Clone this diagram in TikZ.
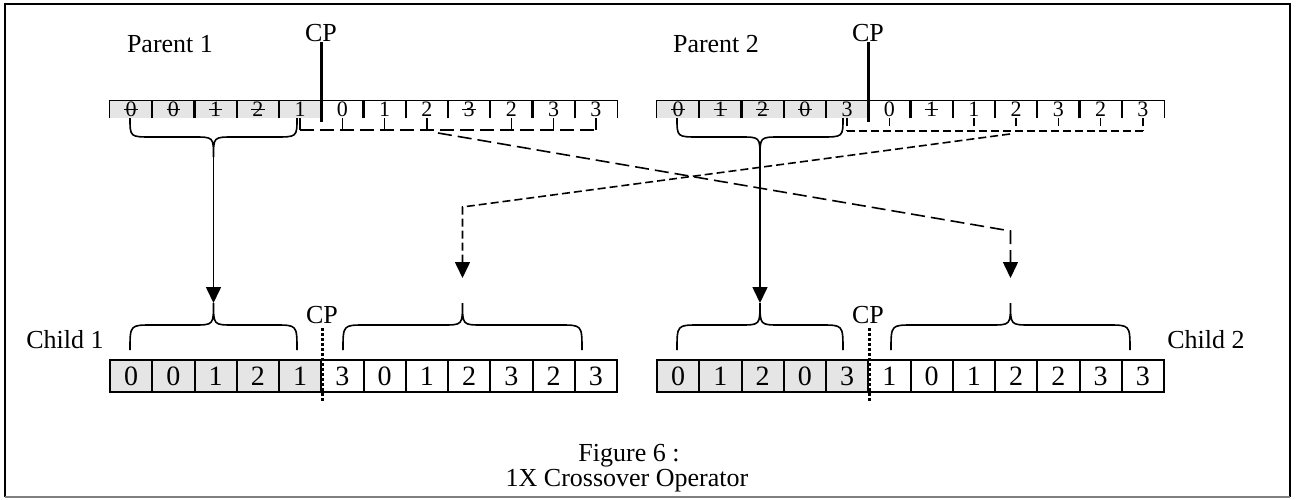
\documentclass[tikz,border=0pt]{standalone}
\usepackage{fontspec}
\setmainfont{Liberation Serif}
\usetikzlibrary{arrows.meta}
\usetikzlibrary{positioning}
\definecolor{cellgray}{gray}{0.9}
\newcommand{\cut}[1]{\ooalign{#1\cr\hidewidth\rule[.31em]{.62em}{.06em}\hidewidth}}
\tikzstyle{gene} = [rectangle, minimum width=21.125pt, minimum height=8.5pt, inner sep=0pt, font=\fontsize{11}{11}\selectfont]
\tikzstyle{kid} = [rectangle, minimum width=21.125pt, minimum height=16pt, inner sep=0pt, draw=black, line width=1pt, font=\fontsize{14}{14}\selectfont]
\tikzstyle{lbl} = [inner sep=0pt, anchor=base, font=\fontsize{13}{13}\selectfont]
\tikzstyle{longdash} = [line width=0.8pt, dash pattern=on 7pt off 3pt]
\tikzstyle{shortdash} = [line width=0.8pt, dash pattern=on 4pt off 2pt]
\tikzstyle{arr} = [-{Triangle[length=8pt,width=7.5pt]}]
% curly brace: tip name, left x, right x, end y, middle y, tip y
\newcommand{\gbrace}[6]{%
  \draw[line width=0.8pt] (#2,#4) .. controls (#2,#5) .. ({#2+22},#5)
    -- ({(#2+#3)/2-20},#5) .. controls ({(#2+#3)/2},#5) .. ({(#2+#3)/2},#6) coordinate (#1)
    .. controls ({(#2+#3)/2},#5) .. ({(#2+#3)/2+20},#5)
    -- ({#3-22},#5) .. controls (#3,#5) .. (#3,#4);}

\begin{document}
\begin{tikzpicture}[x=0.5pt, y=-0.5pt]
 \useasboundingbox (0,0) rectangle (1297,499);
 % frame
 \draw[line width=1pt] (5,497) -- (5,4) -- (1290,4) -- (1290,497);
 \draw[gray, line width=0.6pt] (5,497) -- (1290,497);

 % parents
 \foreach \d/\f [count=\i] in {\cut0/cellgray,\cut0/cellgray,\cut1/cellgray,\cut2/cellgray,1/cellgray,0/white,1/white,2/white,\cut3/white,2/white,3/white,3/white}
  \node (p1g\i) [gene, fill=\f] at ({110+42.25*(\i-0.5)},109.5) {\d};
 \foreach \d/\f [count=\i] in {\cut0/cellgray,\cut1/cellgray,\cut2/cellgray,\cut0/cellgray,3/cellgray,0/white,\cut1/white,1/white,2/white,3/white,2/white,3/white}
  \node (p2g\i) [gene, fill=\f] at ({657+42.25*(\i-0.5)},109.5) {\d};
 \foreach \i in {1,...,12} {
  \draw[line width=0.75pt] (p1g\i.south west) -- (p1g\i.north west) -- (p1g\i.north east) -- (p1g\i.south east);
  \draw[line width=0.75pt] (p2g\i.south west) -- (p2g\i.north west) -- (p2g\i.north east) -- (p2g\i.south east);
 }

 % children
 \foreach \d/\f [count=\i] in {0/cellgray,0/cellgray,1/cellgray,2/cellgray,1/cellgray,3/white,0/white,1/white,2/white,3/white,2/white,3/white}
  \node (c1g\i) [kid, fill=\f] at ({110+42.25*(\i-0.5)},376) {\d};
 \foreach \d/\f [count=\i] in {0/cellgray,1/cellgray,2/cellgray,0/cellgray,3/cellgray,1/white,0/white,1/white,2/white,2/white,3/white,3/white}
  \node (c2g\i) [kid, fill=\f] at ({657+42.25*(\i-0.5)},376) {\d};

 % labels
 \node (par1) [lbl] at (170,52) {Parent 1};
 \node (par2) [lbl] at (716,52) {Parent 2};
 \node (kid1) [lbl] at (65,348) {Child 1};
 \node (kid2) [lbl] at (1206,348) {Child 2};
 \node (cp1) [lbl] at (321,41) {CP};
 \node (cp2) [lbl] at (868,41) {CP};
 \node (cp3) [lbl] at (322,323) {CP};
 \node (cp4) [lbl] at (868,323) {CP};
 \node (fig) [lbl] at (629,461) {Figure 6 :};
 \node (op) [lbl] at (627,486) {1X Crossover Operator};

 % crossover points
 \draw[line width=1.6pt] (p1g5.north east |- 0,42) -- (p1g5.south east |- 0,122);
 \draw[line width=1.6pt] (p2g5.north east |- 0,42) -- (p2g5.south east |- 0,122);
 \draw[line width=1.5pt, dash pattern=on 1.5pt off 1pt] (c1g5.north east |- 0,328) -- (c1g5.south east |- 0,402);
 \draw[line width=1.5pt, dash pattern=on 1.5pt off 1pt] (c2g5.north east |- 0,328) -- (c2g5.south east |- 0,402);

 % braces
 \gbrace{p1tip}{130}{297}{118}{137}{157}
 \gbrace{p2tip}{677}{843}{118}{137}{157}
 \gbrace{c1ltip}{130}{297}{350}{325}{303}
 \gbrace{c1rtip}{343}{582}{350}{325}{303}
 \gbrace{c2ltip}{677}{843}{350}{325}{303}
 \gbrace{c2rtip}{891}{1130}{350}{325}{303}

 % remaining genes
 \foreach \i in {5,6,7,8,10,11,12}
  \draw[longdash] (p1g\i.south) -- (p1g\i.south |- 0,130);
 \draw[longdash] (p1g5.south |- 0,130) -- (p1g12.south |- 0,130);
 \foreach \i in {5,6,8,9,10,11,12}
  \draw[shortdash] (p2g\i.south) -- (p2g\i.south |- 0,131);
 \draw[shortdash] (p2g5.south |- 0,131) -- (p2g12.south |- 0,131);

 % connectors
 \coordinate (p1out) at (438,133);
 \coordinate (p2out) at (1010,134);
 \coordinate (c1in) at (c1rtip |- 0,278);
 \coordinate (c2in) at (c2rtip |- 0,278);
 \draw[line width=0.8pt, arr] (p1tip) -- (c1ltip);
 \draw[line width=0.8pt, arr] (p2tip) -- (c2ltip);
 \draw[longdash, arr] (p1out) -- (c2in |- 0,231) -- (c2in);
 \draw[shortdash, arr] (p2out) -- (c1in |- 0,207) -- (c1in);
\end{tikzpicture}
\end{document}
